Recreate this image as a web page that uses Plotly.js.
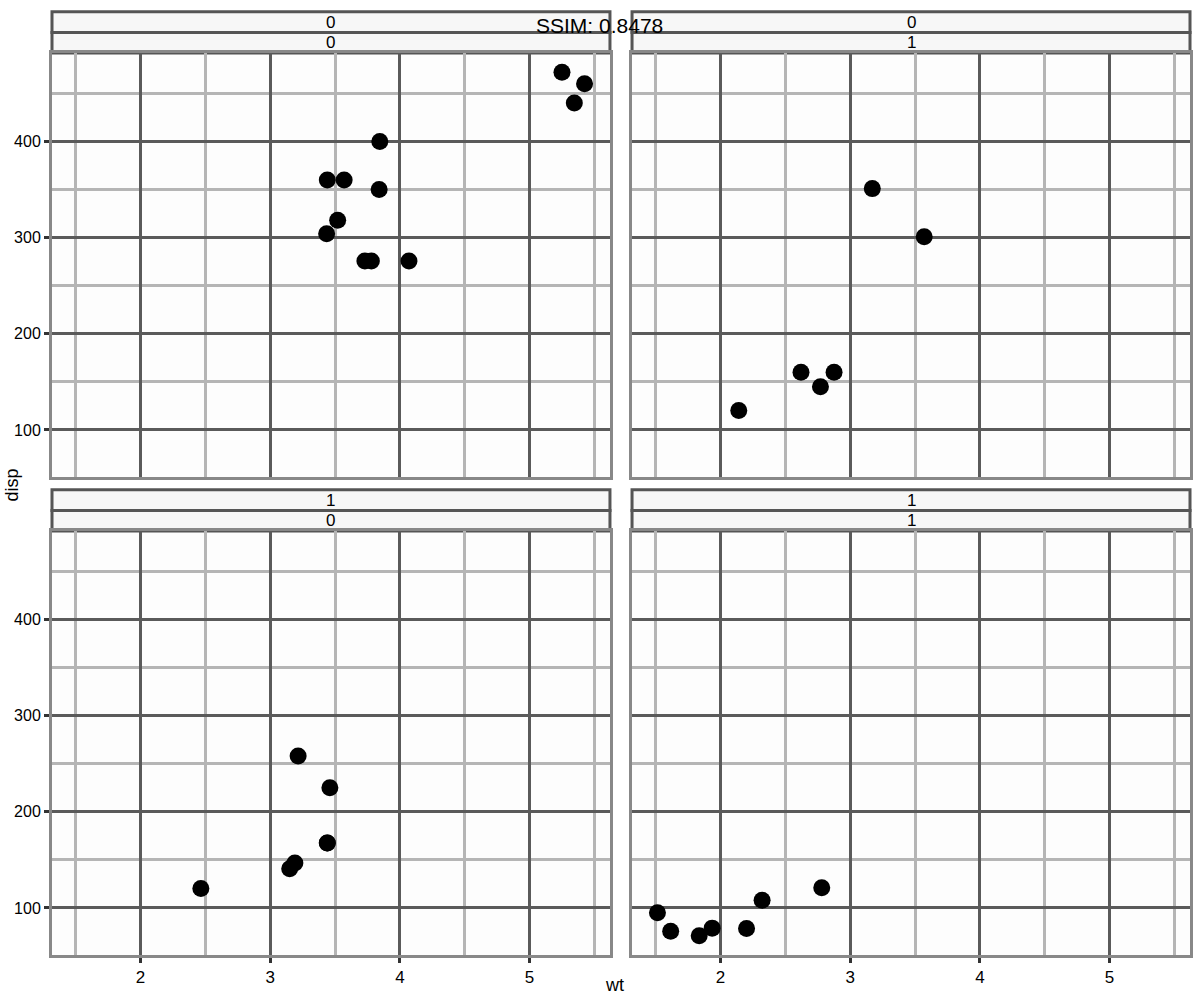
<!DOCTYPE html>
<html>
<head>
<meta charset="utf-8">
<script src="https://cdn.plot.ly/plotly-3.0.1.min.js"></script>
<style>html,body{margin:0;padding:0;background:#fff;}#chart{width:1200px;height:1000px;}</style>
</head>
<body>
<div id="chart"></div>
<script>
// mtcars: wt vs disp, faceted by vs + am
const facetVs = ["0", "0", "1", "1"];
const facetAm = ["0", "1", "0", "1"];

const wt_vs0_am0 = [3.44, 3.57, 4.07, 3.73, 3.78, 5.25, 5.424, 5.345, 3.52, 3.435, 3.84, 3.845];
const disp_vs0_am0 = [360, 360, 275.8, 275.8, 275.8, 472, 460, 440, 318, 304, 350, 400];

const wt_vs0_am1 = [2.62, 2.875, 2.77, 3.17, 3.57, 2.14];
const disp_vs0_am1 = [160, 160, 145, 351, 301, 120.3];

const wt_vs1_am0 = [3.215, 3.46, 3.19, 3.15, 3.44, 3.44, 2.465];
const disp_vs1_am0 = [258, 225, 146.7, 140.8, 167.6, 167.6, 120.1];

const wt_vs1_am1 = [2.32, 2.2, 1.615, 1.835, 1.935, 1.513, 2.78];
const disp_vs1_am1 = [108, 78.7, 75.7, 71.1, 79, 95.1, 121];

const xTicks = [2, 3, 4, 5];
const yTicks = [100, 200, 300, 400];
const xTitle = "wt";
const yTitle = "disp";
const scoreText = "SSIM: 0.8478";

const wts = [wt_vs0_am0, wt_vs0_am1, wt_vs1_am0, wt_vs1_am1];
const disps = [disp_vs0_am0, disp_vs0_am1, disp_vs1_am0, disp_vs1_am1];

const xRange = [1.317, 5.62];
const yRange = [51.05, 492.05];

const xDomains = [[0, 0.4903], [0.5097, 1.0], [0, 0.4903], [0.5097, 1.0]];
const yDomains = [[0.5058, 0.9545], [0.5058, 0.9545], [0, 0.4487], [0, 0.4487]];

const traces = [];
const layout = {
  width: 1200, height: 1000,
  margin: {l: 52, r: 10, t: 10, b: 45},
  paper_bgcolor: "#ffffff",
  plot_bgcolor: "#fdfdfd",
  showlegend: false,
  font: {family: "Liberation Sans, Arial, sans-serif", color: "#000"},
  shapes: [],
  annotations: []
};

for (let i = 0; i < 4; i++) {
  const s = i === 0 ? "" : String(i + 1);
  traces.push({
    type: "scatter", mode: "markers",
    x: wts[i], y: disps[i],
    xaxis: "x" + s, yaxis: "y" + s,
    marker: {color: "#000000", size: 17},
    hoverinfo: "x+y"
  });
  const bottom = i >= 2, left = (i % 2) === 0;
  layout["xaxis" + s] = {
    domain: xDomains[i], range: xRange, anchor: "y" + s,
    tickmode: "array", tickvals: xTicks, ticktext: xTicks.map(String),
    showticklabels: bottom, ticks: bottom ? "outside" : "", ticklen: 5, tickcolor: "#333", tickwidth: 3,
    tickfont: {size: 17, color: "#000"},
    showgrid: true, gridcolor: "#5a5a5a", gridwidth: 3,
    minor: {dtick: 0.5, tick0: 1.5, showgrid: true, gridcolor: "#b5b5b5", gridwidth: 3},
    showline: true, mirror: true, linecolor: "#888", linewidth: 3,
    zeroline: false, fixedrange: true
  };
  layout["yaxis" + s] = {
    domain: yDomains[i], range: yRange, anchor: "x" + s,
    tickmode: "array", tickvals: yTicks, ticktext: yTicks.map(String),
    showticklabels: left, ticks: left ? "outside" : "", ticklen: 5, tickcolor: "#333", tickwidth: 3,
    tickfont: {size: 16, color: "#000"},
    showgrid: true, gridcolor: "#5a5a5a", gridwidth: 3,
    minor: {dtick: 50, tick0: 50, showgrid: true, gridcolor: "#b5b5b5", gridwidth: 3},
    showline: true, mirror: true, linecolor: "#888", linewidth: 3,
    zeroline: false, fixedrange: true
  };
  // strips: two rows (vs on top, am below)
  const top = yDomains[i][1];
  const rowH = 0.0218;
  const rows = [[top + 2 * rowH, top + rowH, facetVs[i]], [top + rowH, top, facetAm[i]]];
  rows.forEach(r => {
    layout.shapes.push({
      type: "rect", xref: "paper", yref: "paper",
      x0: xDomains[i][0], x1: xDomains[i][1], y0: r[1], y1: r[0],
      fillcolor: "#f7f7f7", line: {color: "#555", width: 3}, layer: "below"
    });
    layout.annotations.push({
      xref: "paper", yref: "paper",
      x: (xDomains[i][0] + xDomains[i][1]) / 2, y: (r[0] + r[1]) / 2,
      text: r[2], showarrow: false, font: {size: 17, color: "#000"},
      xanchor: "center", yanchor: "middle"
    });
  });
}

layout.annotations.push({
  xref: "paper", yref: "paper", x: 0.4947, y: -0.0317,
  text: xTitle, showarrow: false, font: {size: 18, color: "#000"},
  xanchor: "center", yanchor: "middle"
});
layout.annotations.push({
  xref: "paper", yref: "paper", x: -0.0351, y: 0.497,
  text: yTitle, showarrow: false, textangle: -90, font: {size: 18, color: "#000"},
  xanchor: "center", yanchor: "middle"
});
layout.annotations.push({
  xref: "paper", yref: "paper", x: 0.4815, y: 0.984,
  text: scoreText, showarrow: false, font: {size: 21, color: "#000"},
  xanchor: "center", yanchor: "middle"
});

Plotly.newPlot("chart", traces, layout, {displayModeBar: false, staticPlot: true});
</script>
</body>
</html>
